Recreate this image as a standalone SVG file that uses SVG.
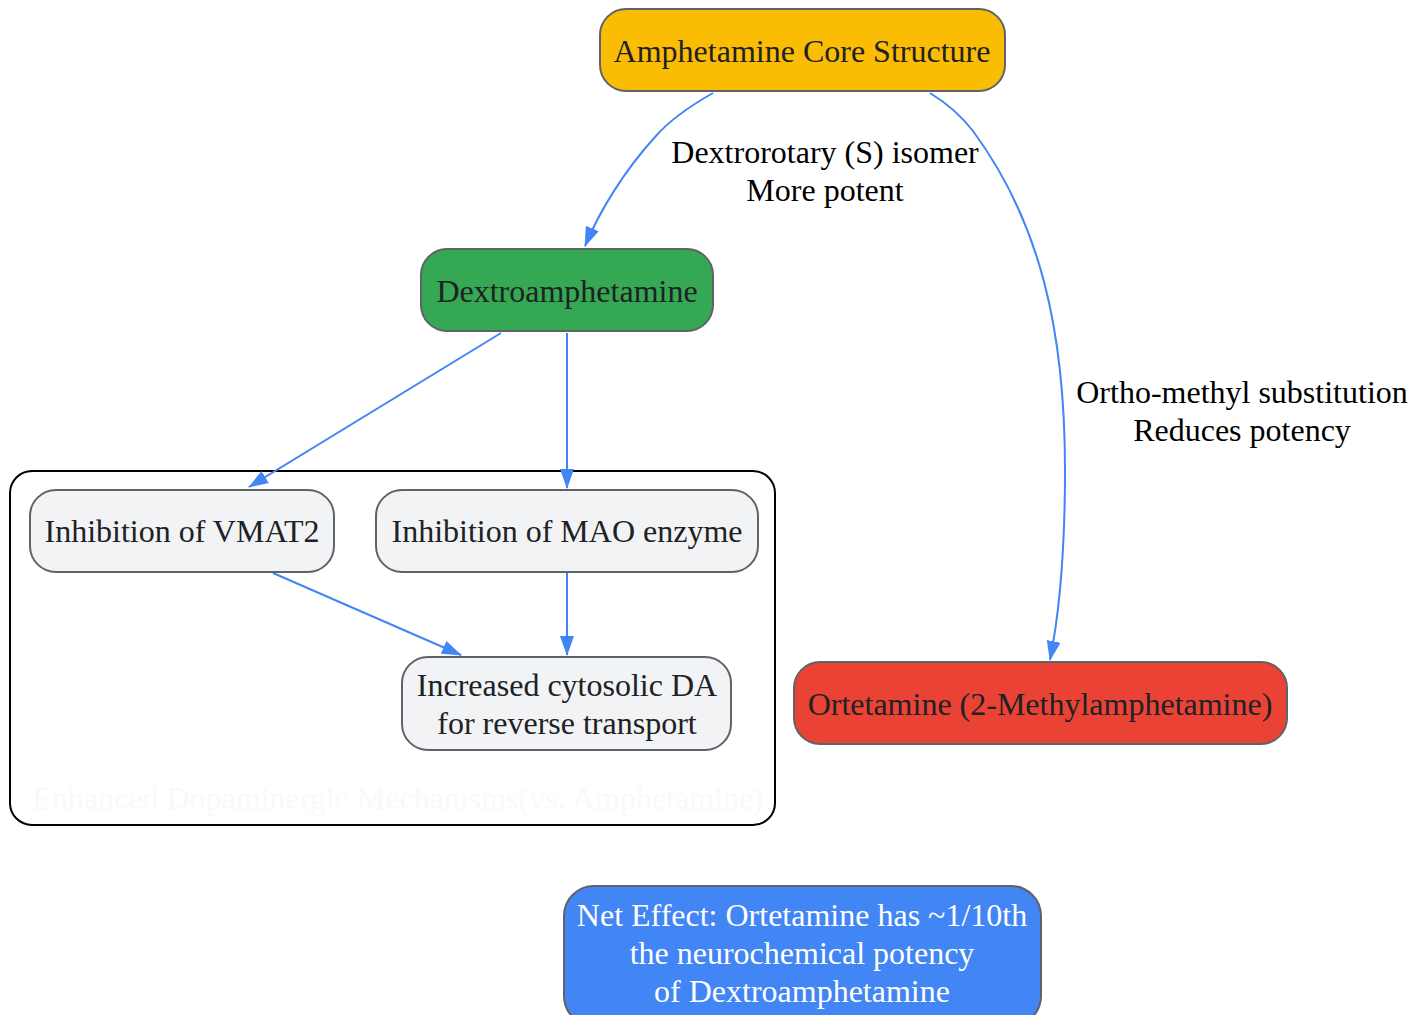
<svg xmlns="http://www.w3.org/2000/svg" width="1428" height="1015" viewBox="0 0 1428 1015">
<defs>
<style>
text{font-family:"Liberation Serif","Times New Roman",serif;font-size:32px;text-anchor:middle}
.n{stroke:#5f6368;stroke-width:2}
.t{fill:#202124}
.e{fill:none;stroke:#4285f4;stroke-width:2}
.l{fill:#000}
</style>
<marker id="a" viewBox="0 0 20 14" refX="19" refY="7" markerWidth="20" markerHeight="14" markerUnits="userSpaceOnUse" orient="auto"><path d="M0,0 L20,7 L0,14 z" fill="#4285f4"/></marker>
</defs>
<rect width="1428" height="1015" fill="#fff"/>
<g id="cluster">
<rect x="10" y="471" width="765" height="354" rx="22" fill="none" stroke="#000" stroke-width="2"/>
<text x="398" y="809" fill="#f8f9fa">Enhanced Dopaminergic Mechanisms(vs. Amphetamine)</text>
</g>
<g id="edges">
<path class="e" d="M713,93 C690,106 668,122 655,137 C625,170 600,210 585,246" marker-end="url(#a)"/>
<path class="e" d="M930,93 C948,104 963,118 973,131 C1040,222 1065,330 1065,470 C1065,560 1058,620 1050,660" marker-end="url(#a)"/>
<path class="e" d="M501,333 L249,487" marker-end="url(#a)"/>
<path class="e" d="M567,333 L567,488" marker-end="url(#a)"/>
<path class="e" d="M273,573 L461,655" marker-end="url(#a)"/>
<path class="e" d="M567,573 L567,655" marker-end="url(#a)"/>
<text class="l" x="825" y="163">Dextrorotary (S) isomer</text>
<text class="l" x="825" y="201">More potent</text>
<text class="l" x="1242" y="403">Ortho-methyl substitution</text>
<text class="l" x="1242" y="441">Reduces potency</text>
</g>
<g id="core">
<rect class="n" x="600" y="9" width="405" height="82" rx="26" fill="#fbbc04"/>
<text class="t" x="802" y="62">Amphetamine Core Structure</text>
</g>
<g id="dextro">
<rect class="n" x="421" y="249" width="292" height="82" rx="26" fill="#34a853"/>
<text class="t" x="567" y="302">Dextroamphetamine</text>
</g>
<g id="vmat2">
<rect class="n" x="30" y="490" width="304" height="82" rx="26" fill="#f1f3f4"/>
<text class="t" x="182" y="542">Inhibition of VMAT2</text>
</g>
<g id="mao">
<rect class="n" x="376" y="490" width="382" height="82" rx="26" fill="#f1f3f4"/>
<text class="t" x="567" y="542">Inhibition of MAO enzyme</text>
</g>
<g id="cytosolic">
<rect class="n" x="402" y="657" width="329" height="93" rx="26" fill="#f1f3f4"/>
<text class="t" x="567" y="696">Increased cytosolic DA</text>
<text class="t" x="567" y="734">for reverse transport</text>
</g>
<g id="ortetamine">
<rect class="n" x="794" y="662" width="493" height="82" rx="26" fill="#ea4335"/>
<text class="t" x="1040" y="715">Ortetamine (2-Methylamphetamine)</text>
</g>
<g id="net">
<rect class="n" x="564" y="886" width="477" height="140" rx="30" fill="#4285f4"/>
<text x="802" y="926" fill="#fff">Net Effect: Ortetamine has ~1/10th</text>
<text x="802" y="964" fill="#fff">the neurochemical potency</text>
<text x="802" y="1002" fill="#fff">of Dextroamphetamine</text>
</g>
</svg>
